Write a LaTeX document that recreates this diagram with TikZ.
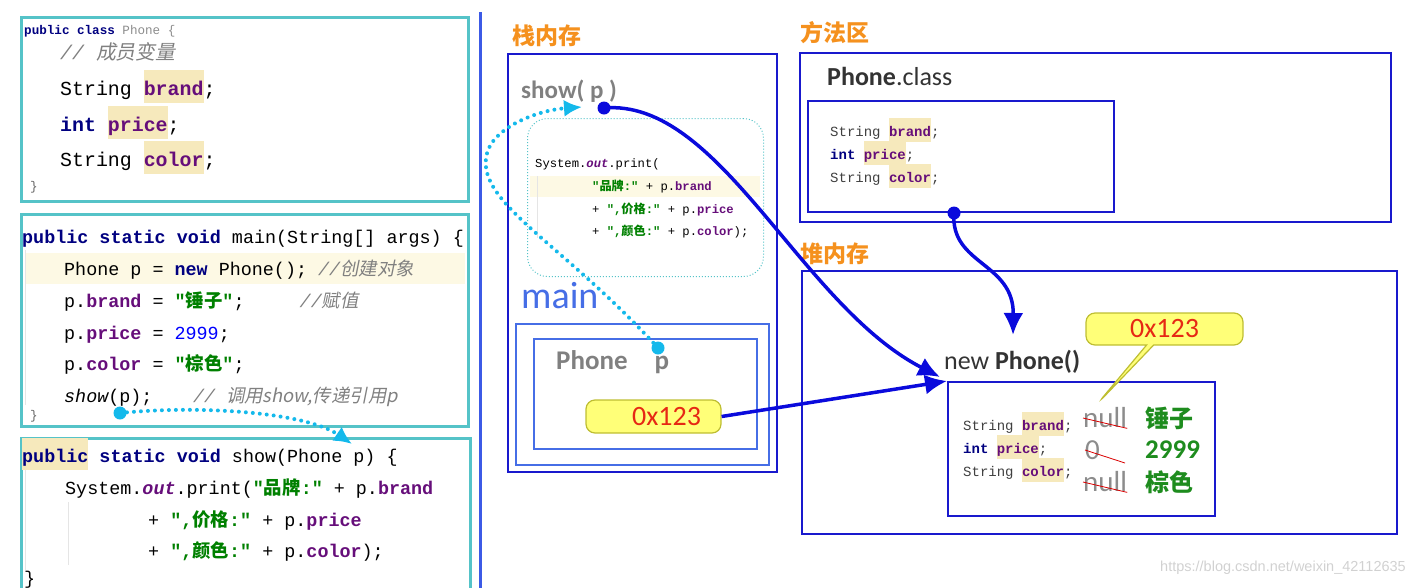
\documentclass[tikz,border=0pt]{standalone}
\usepackage{fontspec}
\setmainfont{Carlito}
\setmonofont{Liberation Mono}
\newfontfamily\cjk{Noto Sans CJK SC}[AutoFakeSlant=0.2]
\newfontfamily\webfont{Liberation Sans}
\usetikzlibrary{arrows.meta}
\usetikzlibrary{shapes.callouts}
\definecolor{tealcol}{RGB}{85,195,200}
\definecolor{memcol}{RGB}{25,25,205}
\definecolor{maincol}{RGB}{70,110,230}
\definecolor{sepcol}{RGB}{60,90,230}
\definecolor{arrowcol}{RGB}{10,10,220}
\definecolor{cyancol}{RGB}{20,185,235}
\definecolor{orangecol}{RGB}{245,145,30}
\definecolor{kwcol}{RGB}{0,0,128}
\definecolor{fldcol}{RGB}{102,14,122}
\definecolor{strcol}{RGB}{0,128,0}
\definecolor{numcol}{RGB}{0,0,255}
\definecolor{cmtcol}{RGB}{128,128,128}
\definecolor{hlcol}{RGB}{246,233,188}
\definecolor{rowcol}{RGB}{253,249,228}
\definecolor{addrfill}{RGB}{255,255,120}
\definecolor{addrdraw}{RGB}{190,190,50}
\definecolor{addrred}{RGB}{230,40,20}
\definecolor{valgreen}{RGB}{30,140,30}
\newcommand{\kw}[1]{{\bfseries\color{kwcol}#1}}
\newcommand{\fld}[1]{{\bfseries\color{fldcol}#1}}
\newcommand{\jstr}[1]{{\bfseries\color{strcol}#1}}
\newcommand{\cmt}[1]{{\itshape\color{cmtcol}#1}}
\newcommand{\cj}[1]{{\cjk#1}}
\newcommand{\hl}[1]{{\setlength{\fboxsep}{0pt}\colorbox{hlcol}{\rule[-0.42em]{0pt}{1.7em}#1}}}

\begin{document}
\begin{tikzpicture}[x=1pt,y=-1pt,
	codeframe/.style={draw=tealcol,line width=2.5pt,anchor=north west,inner sep=0pt},
	memframe/.style={draw=memcol,line width=2pt,anchor=north west,inner sep=0pt},
	mainframe/.style={draw=maincol,line width=2pt,anchor=north west,inner sep=0pt},
	code/.style={anchor=base west,inner sep=0pt,font=\fontsize{18.4}{22}\selectfont\ttfamily\frenchspacing},
	bigcode/.style={code,font=\fontsize{19.9}{24}\selectfont\ttfamily\frenchspacing},
	tinycode/.style={code,font=\fontsize{12.6}{15}\selectfont\ttfamily\frenchspacing},
	smallcode/.style={code,font=\fontsize{14}{17}\selectfont\ttfamily\frenchspacing},
	stackcode/.style={code,font=\fontsize{12.2}{15}\selectfont\ttfamily\frenchspacing},
	heading/.style={anchor=west,inner sep=0pt,text=orangecol,font=\fontsize{23}{26}\selectfont\cjk\bfseries},
	sanstext/.style={anchor=west,inner sep=0pt,font=\fontsize{26}{30}\selectfont},
	nullval/.style={anchor=west,inner sep=0pt,text=black!45,font=\fontsize{29}{32}\selectfont},
	newval/.style={anchor=west,inner sep=0pt,text=valgreen,font=\fontsize{27}{30}\selectfont\bfseries},
	strike/.style={draw=red!85!black,line width=0.8pt},
	guide/.style={draw=black!10,line width=0.8pt},
	bluearrow/.style={draw=arrowcol,line width=3.5pt,-{Latex[length=22pt,width=20pt]}},
	cyanarrow/.style={draw=cyancol,line width=4pt,dash pattern=on 0pt off 7pt,line cap=round,-{Latex[length=18pt,width=17pt]}},
	bluedot/.style={fill=arrowcol},
	cyandot/.style={fill=cyancol},
	addrbox/.style={rectangle,rounded corners=9pt,fill=addrfill,draw=addrdraw,line width=1.2pt,text=addrred,font=\fontsize{28}{30}\selectfont},
	]
	\useasboundingbox (0,0) rectangle (1414,587);
	\node[codeframe,minimum width=447pt,minimum height=184pt] (classbox) at (20,16) {};
	\node[codeframe,minimum width=447pt,minimum height=212pt] (mainbox) at (20,213) {};
	\node[codeframe,minimum width=449pt,minimum height=165pt] (showbox) at (20,437) {};
	\draw[draw=sepcol,line width=3pt] (480,12) -- (480,590);
	\fill[rowcol] (25,253) rectangle (465,284);
	\draw[guide] (25,250) -- (25,405);
	\draw[guide] (25,470) -- (25,570);
	\draw[guide] (68,502) -- (68,565);
	\node[tinycode] (c1) at (24,34) {\kw{public class} {\color{black!45}Phone \{}};
	\node[bigcode] (c2) at (60,59) {\cmt{// \cj{成员变量}}};
	\node[bigcode] (c3) at (60,95) {String \hl{\fld{brand}};};
	\node[bigcode] (c4) at (60,131) {\kw{int} \hl{\fld{price}};};
	\node[bigcode] (c5) at (60,166) {String \hl{\fld{color}};};
	\node[tinycode,text=black!60] (c6) at (30,190) {\}};
	\node[code] (m1) at (22,243) {\kw{public static void} main(String[] args) \{};
	\node[code] (m2) at (64,275) {Phone p = \kw{new} Phone(); \cmt{//\cj{创建对象}}};
	\node[code] (m3) at (64,307) {p.\fld{brand} = \jstr{"\cj{锤子}"};\hspace{3em}\cmt{//\cj{赋值}}};
	\node[code] (m4) at (64,339) {p.\fld{price} = {\color{numcol}2999};};
	\node[code] (m5) at (64,370) {p.\fld{color} = \jstr{"\cj{棕色}"};};
	\node[code] (m6) at (64,402) {{\itshape show}(p);\hspace{2.2em}\cmt{// \cj{调用show,传递引用p}}};
	\node[tinycode,text=black!60] (m7) at (30,419) {\}};
	\node[code] (s1) at (22,462) {\hl{\kw{public}} \kw{static void} show(Phone p) \{};
	\node[code] (s2) at (65,494) {System.{\bfseries\itshape\color{fldcol}out}.print(\jstr{"\cj{品牌}:"} + p.\fld{brand}};
	\node[code] (s3) at (148,526) {+ \jstr{",\cj{价格}:"} + p.\fld{price}};
	\node[code] (s4) at (148,557) {+ \jstr{",\cj{颜色}:"} + p.\fld{color});};
	\node[code] (s5) at (24,584) {\}};
	\node[heading] (stacklbl) at (512,36) {栈内存};
	\node[heading] (methodlbl) at (800,33) {方法区};
	\node[heading] (heaplbl) at (800,254) {堆内存};
	\node[memframe,minimum width=269pt,minimum height=418pt] (stack) at (507,53) {};
	\node[memframe,minimum width=591pt,minimum height=169pt] (method) at (799,52) {};
	\node[memframe,minimum width=595pt,minimum height=263pt] (heap) at (801,270) {};
	\node[sanstext,text=black!50,font=\fontsize{25}{30}\selectfont\bfseries] (showcall) at (521,91) {show( p )};
	\fill[rowcol] (530,176) rectangle (760,197);
	\draw[guide] (537,176) -- (537,238);
	\node[draw=tealcol,line width=1pt,dotted,rounded corners=20pt,anchor=north west,inner sep=0pt,minimum width=236pt,minimum height=158pt] (showframe) at (527,118) {};
	\node[stackcode] (k1) at (535,167) {System.{\bfseries\itshape\color{fldcol}out}.print(};
	\node[stackcode] (k2) at (592,190) {\jstr{"\cj{品牌}:"} + p.\fld{brand}};
	\node[stackcode] (k3) at (592,213) {+ \jstr{",\cj{价格}:"} + p.\fld{price}};
	\node[stackcode] (k4) at (592,235) {+ \jstr{",\cj{颜色}:"} + p.\fld{color});};
	\node[anchor=west,inner sep=0pt,text=maincol,font=\fontsize{38}{40}\selectfont] (mainlbl) at (521,296) {main};
	\node[mainframe,minimum width=253pt,minimum height=141pt] (mainout) at (515,323) {};
	\node[mainframe,minimum width=223pt,minimum height=110pt] (mainin) at (533,338) {};
	\node[sanstext,text=black!50,font=\fontsize{27}{30}\selectfont\bfseries] (phonep) at (556,362) {Phone\hspace{1em}p};
	\node[addrbox,minimum width=135pt,minimum height=33pt,inner xsep=20pt,text width=95pt,align=right] (addr) at (653.5,416.5) {0x123};
	\node[sanstext,text=black!80] (classname) at (827,76) {\textbf{Phone}.class};
	\node[memframe,minimum width=306pt,minimum height=111pt] (classin) at (807,100) {};
	\node[smallcode,text=black!75] (f1) at (830,136) {String \hl{\fld{brand}};};
	\node[smallcode,text=black!75] (f2) at (830,159) {\kw{int} \hl{\fld{price}};};
	\node[smallcode,text=black!75] (f3) at (830,182) {String \hl{\fld{color}};};
	\node[sanstext,text=black!80] (newobj) at (944,362) {new \textbf{Phone()}};
	\node[memframe,minimum width=267pt,minimum height=134pt] (obj) at (947,381) {};
	\node[smallcode,text=black!75] (o1) at (963,430) {String \hl{\fld{brand}};};
	\node[smallcode,text=black!75] (o2) at (963,453) {\kw{int} \hl{\fld{price}};};
	\node[smallcode,text=black!75] (o3) at (963,476) {String \hl{\fld{color}};};
	\node[nullval] (nul1) at (1083,418) {null};
	\node[nullval] (zero) at (1085,450) {0};
	\node[nullval] (nul2) at (1083,482) {null};
	\draw[strike] (nul1.west) -- (nul1.south east);
	\draw[strike] (zero.west) -- ++(40,13);
	\draw[strike] (nul2.west) -- (nul2.south east);
	\node[newval,font=\fontsize{24}{28}\selectfont\bfseries] (brandval) at (1145,418) {\cj{锤子}};
	\node[newval] (priceval) at (1145,450) {2999};
	\node[newval,font=\fontsize{24}{28}\selectfont\bfseries] (colorval) at (1145,482) {\cj{棕色}};
	\coordinate (objptr) at (1098,403);
	\node[addrbox,rectangle callout,callout absolute pointer={(objptr)},minimum width=157pt,minimum height=32pt,inner sep=0pt] (heapaddr) at (1164.5,329) {0x123};
	\coordinate (showp) at (604,108);
	\coordinate (classdot) at (954,213);
	\coordinate (calldot) at (120,413);
	\coordinate (pdot) at (658,348);
	\coordinate (objtip) at (940,377);
	\coordinate (newtip) at (1013,335);
	\coordinate (paramtip) at (352,444);
	\coordinate (showtip) at (582,107);
	\draw[bluearrow] (showp) .. controls (720,98) and (800,305) .. (objtip);
	\draw[bluearrow] (addr.east) -- (obj.north west);
	\draw[bluearrow] (classdot) .. controls (950,265) and (1014,262) .. (newtip);
	\fill[bluedot] (showp) circle (6.5);
	\fill[bluedot] (classdot) circle (6.5);
	\draw[cyanarrow] (calldot) .. controls (200,405) and (305,412) .. (paramtip);
	\draw[cyanarrow] (pdot) .. controls (560,240) and (470,200) .. (488,150) .. controls (498,125) and (540,110) .. (showtip);
	\fill[cyandot] (calldot) circle (6.5);
	\fill[cyandot] (pdot) circle (6.5);
	\node[anchor=east,inner sep=0pt,text=black!18,font=\webfont\fontsize{14.5}{16}\selectfont] (mark) at (1406,568) {https://blog.csdn.net/weixin\_42112635};
\end{tikzpicture}
\end{document}
